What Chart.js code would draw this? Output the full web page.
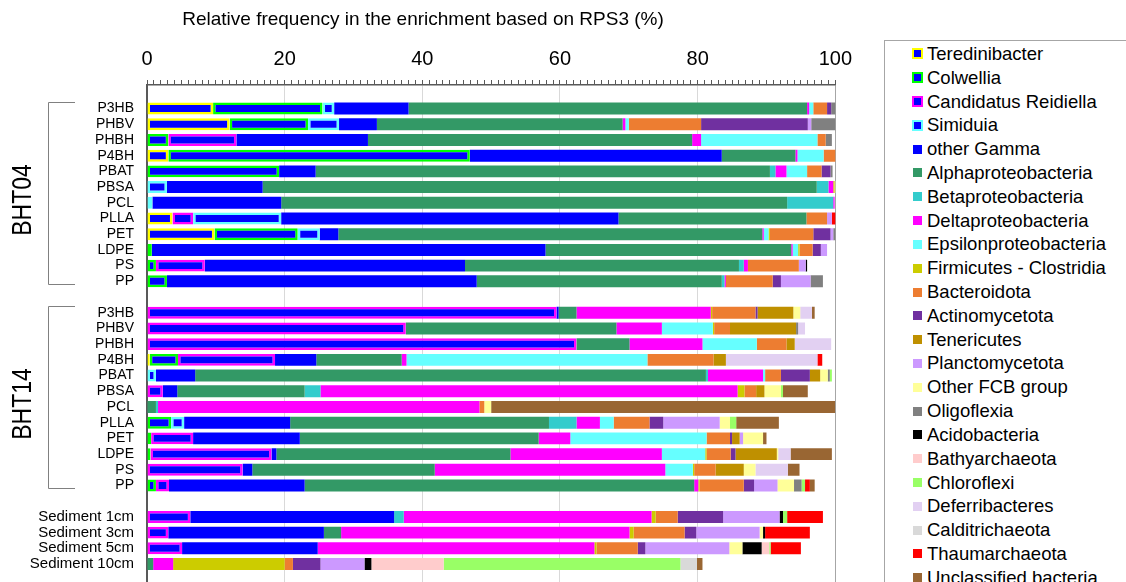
<!DOCTYPE html>
<html>
<head>
<meta charset="utf-8">
<script src="https://cdn.jsdelivr.net/npm/chart.js@4.4.1/dist/chart.umd.min.js"></script>
<style>
    html, body { margin: 0; padding: 0; background: #fff; overflow: hidden; }
    #wrap { position: absolute; left: 0; top: 0; width: 861px; height: 601px; }
    #legend {
        position: absolute; left: 884px; top: 40px; width: 270px; height: 570px;
        border: 1px solid #a6a6a6; box-sizing: border-box; padding-top: 1px;
        font-family: "Liberation Sans", Arial, sans-serif; font-size: 18.5px; color: #000;
    }
    .item { display: flex; align-items: center; height: 23.82px; white-space: nowrap; }
    .mark { width: 11px; height: 11px; margin-left: 27px; margin-right: 4px; box-sizing: border-box; display: flex; align-items: center; justify-content: center; }
    .mark .dot { width: 9px; height: 9px; }
</style>
</head>
<body>
<div id="wrap"><canvas id="chart" width="861" height="601"></canvas></div>
<div id="legend"></div>
<script>
// --- categories ---
const samples = ['P3HB', 'PHBV', 'PHBH', 'P4BH', 'PBAT', 'PBSA', 'PCL', 'PLLA', 'PET', 'LDPE', 'PS', 'PP'];
const sediments = ['Sediment 1cm', 'Sediment 3cm', 'Sediment 5cm', 'Sediment 10cm'];
const groups = ['BHT04', 'BHT14'];
const xTicks = [0, 20, 40, 60, 80, 100];

// --- values (%), order: BHT04 x12, BHT14 x12, sediment x4 ---
const teredinibacter = [9.6, 12.0, 0, 3.1, 0, 0, 0, 3.7, 9.8, 0, 0, 0,   0, 0, 0, 0.4, 0, 0, 0, 0, 0, 0, 0, 0,   0, 0, 0, 0];
const colwellia      = [15.9, 11.4, 3.1, 43.8, 19.2, 0, 0, 0, 12.1, 0.7, 1.3, 2.9,   0, 0, 0, 4.1, 0, 0, 0, 3.5, 0.6, 0.5, 0, 1.3,   0, 0, 0, 0];
const reidiella      = [0, 0, 9.9, 0, 0, 0, 0, 3.0, 0, 0, 7.1, 0,   59.5, 37.6, 62.4, 14.1, 0, 2.3, 0, 0, 6.1, 17.6, 13.9, 1.9,   6.3, 3.1, 5.1, 0];
const simiduia       = [1.7, 4.5, 0, 0, 0, 2.9, 0.8, 12.8, 3.2, 0, 0, 0,   0, 0, 0, 0, 1.3, 0, 0, 1.9, 0, 0, 0, 0,   0, 0, 0, 0];
const otherGamma     = [10.8, 5.5, 19.1, 36.6, 5.3, 13.9, 18.7, 49.0, 2.7, 57.2, 37.8, 45.0,   0.3, 0, 0, 6.0, 5.7, 2.1, 0, 15.4, 15.5, 0.7, 1.4, 19.7,   29.6, 22.6, 19.7, 0];
const alpha          = [57.9, 35.7, 47.1, 10.7, 66.0, 80.5, 73.5, 27.3, 61.6, 35.7, 39.8, 35.6,   2.6, 30.6, 7.7, 12.4, 74.2, 18.5, 1.3, 37.6, 34.7, 34.0, 26.5, 56.6,   0, 2.5, 0, 0.9];
const beta           = [0, 0, 0, 0, 0.8, 1.7, 6.7, 0, 0, 0, 0.7, 0.4,   0, 0, 0, 0, 0.3, 2.3, 0.3, 4.0, 0, 0, 0, 0,   1.4, 0, 0, 0];
const delta          = [0.3, 0.4, 1.3, 0.3, 1.6, 0.7, 0.2, 0, 0.2, 0.2, 0.6, 0.2,   19.5, 6.6, 10.6, 0.7, 8.0, 60.6, 46.7, 3.4, 4.6, 22.0, 33.5, 0.6,   36.0, 41.9, 40.2, 2.9];
const epsilon        = [0.6, 0.5, 16.9, 3.8, 3.0, 0, 0, 0, 0.7, 0.8, 0, 0,   0, 7.4, 7.9, 35.0, 0.3, 0, 0, 2.0, 19.8, 6.3, 4.0, 0,   0, 0, 0, 0];
const firmicutes     = [0, 0, 0, 0, 0, 0.2, 0, 0, 0.2, 0.2, 0, 0,   0.2, 0.2, 0, 0, 0, 1.0, 0, 0, 0, 0.2, 0.2, 0.2,   0.6, 0.6, 0.3, 16.2];
const bacteroidota   = [2.0, 10.5, 1.2, 1.8, 2.1, 0, 0, 3.0, 6.3, 1.9, 7.4, 6.8,   6.3, 2.3, 4.3, 9.6, 2.3, 1.7, 0.7, 5.2, 3.4, 3.5, 3.1, 6.4,   3.2, 7.4, 6.0, 1.2];
const actino         = [0.6, 15.5, 0, 0, 1.3, 0, 0, 0, 2.5, 1.2, 0, 1.2,   0.3, 0, 0, 0, 4.2, 0, 0, 2.0, 0.3, 0.7, 0, 1.5,   6.6, 1.7, 1.1, 4.0];
const tenericutes    = [0, 0, 0, 0, 0, 0, 0, 0, 0, 0, 0, 0,   5.2, 9.6, 1.2, 1.8, 1.5, 1.2, 0, 0, 1.1, 6.0, 4.1, 0,   0, 0, 0, 0];
const plancto        = [0, 0.5, 0, 0, 0, 0, 0, 0.7, 0.4, 0.9, 1.0, 4.3,   0, 0, 0, 0, 0, 0, 0, 8.2, 0.5, 0, 0, 3.4,   8.2, 9.2, 12.2, 6.4];
const otherFCB       = [0, 0, 0, 0, 0, 0.2, 0, 0, 0, 0, 0, 0,   1.0, 0, 0, 0, 1.1, 2.4, 1.0, 1.5, 2.9, 0.2, 1.7, 2.4,   0, 0.5, 1.9, 0];
const oligoflexia    = [0.9, 3.8, 0.9, 0.6, 0.3, 0, 0, 0, 0.8, 0, 0, 1.8,   0, 0.3, 0, 0, 0.3, 0, 0, 0, 0, 0, 0, 1.1,   0, 0, 0, 0];
const acidobacteria  = [0, 0, 0, 0, 0, 0, 0, 0, 0, 0, 0.2, 0,   0, 0, 0, 0, 0, 0, 0, 0, 0, 0, 0, 0,   0.5, 0.3, 2.8, 1.0];
const bathyarchaeota = [0, 0, 0, 0, 0, 0, 0, 0, 0, 0, 0, 0,   0, 0, 0, 0, 0, 0, 0, 0, 0, 0, 0, 0,   0, 0, 1.1, 10.5];
const chloroflexi    = [0, 0.2, 0, 0, 0, 0, 0, 0, 0, 0, 0, 0,   0, 0, 0, 0, 0.3, 0.3, 0, 0.9, 0, 0, 0, 0.5,   0.6, 0, 0.2, 34.4];
const deferribacteres = [0, 0, 0, 0, 0, 0, 0, 0, 0, 0, 0, 0,   1.7, 1.0, 5.3, 13.3, 0, 0, 0, 0, 0, 1.8, 4.7, 0,   0, 0, 0, 0];
const calditrichaeota = [0, 0, 0, 0, 0, 0, 0, 0, 0, 0, 0, 0,   0, 0, 0, 0, 0, 0, 0, 0, 0, 0, 0, 0,   0, 0, 0, 2.4];
const thaumarchaeota = [0, 0, 0, 0, 0, 0, 0, 0.9, 0, 0, 0, 0,   0, 0, 0, 0.7, 0, 0, 0, 0, 0, 0, 0, 0.7,   5.2, 6.5, 4.4, 0];
const unclassified   = [0, 0, 0, 0, 0, 0, 0, 0, 0, 0, 0, 0,   0.4, 0, 0, 0, 0, 3.6, 50.0, 6.2, 0.5, 6.0, 1.7, 0.7,   0, 0, 0, 0.8];

const seriesNames = ['Teredinibacter', 'Colwellia', 'Candidatus Reidiella', 'Simiduia', 'other Gamma',
    'Alphaproteobacteria', 'Betaproteobacteria', 'Deltaproteobacteria', 'Epsilonproteobacteria',
    'Firmicutes - Clostridia', 'Bacteroidota', 'Actinomycetota', 'Tenericutes', 'Planctomycetota',
    'Other FCB group', 'Oligoflexia', 'Acidobacteria', 'Bathyarchaeota', 'Chloroflexi',
    'Deferribacteres', 'Calditrichaeota', 'Thaumarchaeota', 'Unclassified bacteria'];
const seriesValues = [teredinibacter, colwellia, reidiella, simiduia, otherGamma, alpha, beta, delta, epsilon,
    firmicutes, bacteroidota, actino, tenericutes, plancto, otherFCB, oligoflexia, acidobacteria,
    bathyarchaeota, chloroflexi, deferribacteres, calditrichaeota, thaumarchaeota, unclassified];

// --- styles ---
const GAMMA_BLUE = '#0000FF';
const OUTLINED = ['#FFFF00', '#00FF00', '#FF00FF', '#66FFFF']; // genus boxes inside Gammaproteobacteria
const FILLS = ['#0000FF', '#339966', '#33CCCC', '#FF00FF', '#66FFFF', '#CCCC00', '#ED7D31', '#7030A0',
    '#BF9000', '#CC99FF', '#FFFF99', '#808080', '#000000', '#FFCCCC', '#99FF66', '#E2D0F2',
    '#D9D9D9', '#FF0000', '#996633'];
const FONT = '"Liberation Sans", Arial, sans-serif';

// blank slots between groups
const withGaps = vals => [null, ...vals.slice(0, 12), null, ...vals.slice(12, 24), null, ...vals.slice(24), null];
const slotLabels = withGaps([...samples, ...samples, ...sediments]).map(l => l || '');

const datasets = seriesValues.map((vals, i) => {
    const outlined = i < OUTLINED.length;
    return {
        label: seriesNames[i],
        data: withGaps(vals),
        backgroundColor: outlined ? GAMMA_BLUE : FILLS[i - OUTLINED.length],
        borderColor: outlined ? OUTLINED[i] : 'rgba(0,0,0,0)',
        borderWidth: outlined ? 2.5 : 0,
        borderSkipped: false,
        barPercentage: 0.76,
        categoryPercentage: 1
    };
});

// --- legend (html) ---
const legendEl = document.getElementById('legend');
datasets.forEach((ds, i) => {
    const row = document.createElement('div');
    row.className = 'item';
    const mark = document.createElement('span');
    mark.className = 'mark';
    if (i < OUTLINED.length) {
        mark.style.border = '2.5px solid ' + ds.borderColor;
        mark.style.background = GAMMA_BLUE;
    } else {
        const dot = document.createElement('span');
        dot.className = 'dot';
        dot.style.background = ds.backgroundColor;
        mark.appendChild(dot);
    }
    row.appendChild(mark);
    row.appendChild(document.createTextNode(ds.label));
    legendEl.appendChild(row);
});

// --- brackets, group names and title ---
const decorations = {
    id: 'decorations',
    afterDraw(chart) {
        const ctx = chart.ctx;
        const y = chart.scales.y;
        ctx.save();
        ctx.strokeStyle = '#808080';
        ctx.lineWidth = 1;
        groups.forEach((name, g) => {
            const first = 1 + g * 13, last = first + 11;
            const top = Math.round(y.getPixelForValue(first) - 6.5) + 0.5;
            const bottom = Math.round(y.getPixelForValue(last) + 2.5) + 0.5;
            ctx.beginPath();
            ctx.moveTo(75, top); ctx.lineTo(48.5, top); ctx.lineTo(48.5, bottom); ctx.lineTo(75, bottom);
            ctx.stroke();
            ctx.save();
            ctx.translate(23, (top + bottom) / 2 + 6.5);
            ctx.rotate(-Math.PI / 2);
            ctx.scale(1, 1.2);
            ctx.fillStyle = '#000';
            ctx.font = '23px ' + FONT;
            ctx.textAlign = 'center';
            ctx.textBaseline = 'middle';
            ctx.fillText(name, 0, 0);
            ctx.restore();
        });
        ctx.fillStyle = '#000';
        ctx.font = '19px ' + FONT;
        ctx.textAlign = 'center';
        ctx.textBaseline = 'middle';
        ctx.fillText('Relative frequency in the enrichment based on RPS3 (%)', 423, 20);
        ctx.restore();
    }
};

new Chart(document.getElementById('chart').getContext('2d'), {
    type: 'bar',
    data: { labels: slotLabels, datasets },
    options: {
        indexAxis: 'y',
        responsive: false,
        animation: false,
        layout: { padding: 0 },
        plugins: { legend: { display: false }, tooltip: { enabled: false } },
        scales: {
            x: {
                position: 'top',
                stacked: true,
                min: 0,
                max: 100,
                ticks: {
                    stepSize: 1,
                    autoSkip: false,
                    maxRotation: 0,
                    padding: 9,
                    color: '#000',
                    font: { size: 20, family: FONT },
                    callback: v => xTicks.includes(v) ? String(v) : ''
                },
                grid: {
                    color: c => (c.tick && c.tick.value === 100) ? '#a6a6a6'
                        : (c.tick && c.tick.value > 0 && xTicks.includes(c.tick.value)) ? '#d9d9d9' : 'rgba(0,0,0,0)',
                    tickColor: '#595959',
                    tickLength: 5
                },
                border: { color: '#595959', width: 1.5 },
                afterFit: s => { s.height = 85; }
            },
            y: {
                stacked: true,
                grid: { display: false },
                border: { color: '#595959', width: 2 },
                ticks: {
                    autoSkip: false,
                    padding: 5,
                    color: '#000',
                    font: c => ({ size: c.index > 26 ? 15 : 14, family: FONT })
                },
                afterFit: s => { s.width = 147; }
            }
        }
    },
    plugins: [decorations]
});
</script>
</body>
</html>
